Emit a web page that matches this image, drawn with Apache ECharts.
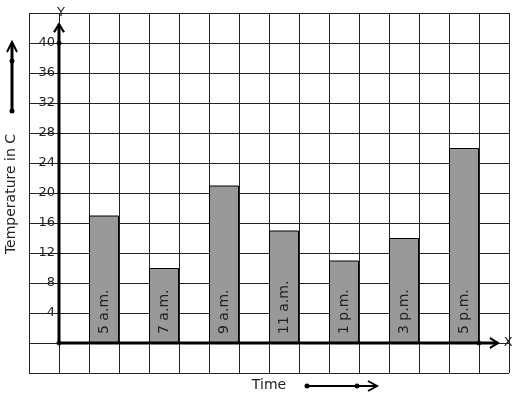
<!DOCTYPE html>
<html lang="en">
<head>
<meta charset="utf-8">
<title>Temperature by time</title>
<script src="https://cdn.jsdelivr.net/npm/echarts@6/dist/echarts.min.js"></script>
<style>
  html, body { margin: 0; padding: 0; background: #fff; }
  #main { width: 517px; height: 399px; }
</style>
</head>
<body>
<div id="main"></div>
<script type="text/javascript">
    // data
    let timeLabels = ['5 a.m.', '7 a.m.', '9 a.m.', '11 a.m.', '1 p.m.', '3 p.m.', '5 p.m.'];
    let temperatures = [17, 10, 21, 15, 11, 14, 26];
    let yMin = -4, yMax = 44, yStep = 4;
    let labelMin = 4, labelMax = 40;
    let xMin = -1, xMax = 15;   // graph paper columns, origin at 0

    let font = 'DejaVu Sans';

    // each bar takes one column, every second column starting at 1
    let barData = temperatures.map((t, i) => ({
        value: [2 * i + 1.5, t],
        name: timeLabels[i]
    }));

    let Chart = echarts.init(document.getElementById('main'), null, {renderer: 'canvas'});

    let option = {
        animation: false,
        grid: {left: 29, top: 13, width: 480, height: 360, outerBoundsMode: 'none'},
        xAxis: {
            type: 'value', min: xMin, max: xMax, interval: 1,
            axisLine: {show: false, onZero: false},
            axisTick: {show: false},
            axisLabel: {show: false},
            splitLine: {show: true, lineStyle: {color: '#222', width: 1}}
        },
        yAxis: {
            type: 'value', min: yMin, max: yMax, interval: yStep,
            // labels sit on the origin column, one cell in from the left edge
            offset: -30,
            axisLine: {show: false, onZero: false},
            axisTick: {show: false},
            axisLabel: {
                margin: 4, color: '#222', fontFamily: font, fontSize: 13,
                formatter: (v) => (v >= labelMin && v <= labelMax) ? String(v) : ''
            },
            splitLine: {show: true, lineStyle: {color: '#222', width: 1}}
        },
        series: [
            {
                type: 'bar',
                barWidth: 30,
                data: barData,
                itemStyle: {color: '#999999', borderColor: '#000', borderWidth: 1},
                label: {
                    show: true, position: 'insideBottom', rotate: 90,
                    align: 'left', verticalAlign: 'middle', distance: 9,
                    formatter: (p) => p.name,
                    color: '#222', fontFamily: font, fontSize: 14
                }
            },
            {
                // y axis with arrow
                type: 'line',
                symbol: 'none',
                lineStyle: {color: '#000', width: 3},
                data: [
                    {value: [0, 0]},
                    {
                        value: [0, 42.5],
                        symbol: 'path://M0,10 L5,0 L10,10',
                        symbolSize: [10, 8],
                        symbolOffset: [0, 4],
                        itemStyle: {color: 'rgba(0,0,0,0)', borderColor: '#000', borderWidth: 2},
                        label: {show: true, position: 'top', distance: 4, offset: [2, 0], formatter: 'Y',
                            color: '#222', fontFamily: font, fontSize: 13}
                    }
                ]
            },
            {
                // x axis with arrow
                type: 'line',
                symbol: 'none',
                lineStyle: {color: '#000', width: 3},
                data: [
                    {value: [0, 0]},
                    {
                        value: [14.63, 0],
                        symbol: 'path://M0,0 L10,5 L0,10',
                        symbolSize: [8, 10],
                        symbolOffset: [-4, 0],
                        itemStyle: {color: 'rgba(0,0,0,0)', borderColor: '#000', borderWidth: 2},
                        label: {show: true, position: 'right', distance: 5, formatter: 'X',
                            color: '#222', fontFamily: font, fontSize: 13}
                    }
                ]
            },
            {
                // dots on the axes
                type: 'scatter',
                symbolSize: 5,
                itemStyle: {color: '#000'},
                data: [[0, 0], [0, 40], [14, 0]]
            }
        ],
        graphic: [
            // axis titles
            {type: 'text', x: 11, y: 194, rotation: Math.PI / 2,
                style: {text: 'Temperature in C', font: '14px "DejaVu Sans"', fill: '#222',
                    align: 'center', verticalAlign: 'middle'}},
            {type: 'text', x: 269, y: 385,
                style: {text: 'Time', font: '14px "DejaVu Sans"', fill: '#222',
                    align: 'center', verticalAlign: 'middle'}},
            // direction arrow on the left
            {type: 'line', shape: {x1: 12, y1: 111, x2: 12, y2: 43}, style: {stroke: '#000', lineWidth: 3}},
            {type: 'polyline', shape: {points: [[7, 52], [12, 42], [17, 52]]}, style: {stroke: '#000', lineWidth: 2, fill: null}},
            {type: 'circle', shape: {cx: 12, cy: 111, r: 2.5}, style: {fill: '#000'}},
            {type: 'circle', shape: {cx: 12, cy: 61, r: 2.5}, style: {fill: '#000'}},
            // direction arrow at the bottom
            {type: 'line', shape: {x1: 307, y1: 386, x2: 376, y2: 386}, style: {stroke: '#000', lineWidth: 2}},
            {type: 'polyline', shape: {points: [[368, 381], [377, 386], [368, 391]]}, style: {stroke: '#000', lineWidth: 2, fill: null}},
            {type: 'circle', shape: {cx: 307, cy: 386, r: 2.5}, style: {fill: '#000'}},
            {type: 'circle', shape: {cx: 357, cy: 386, r: 2.5}, style: {fill: '#000'}}
        ]
    };

    Chart.setOption(option);
</script>
</body>
</html>
